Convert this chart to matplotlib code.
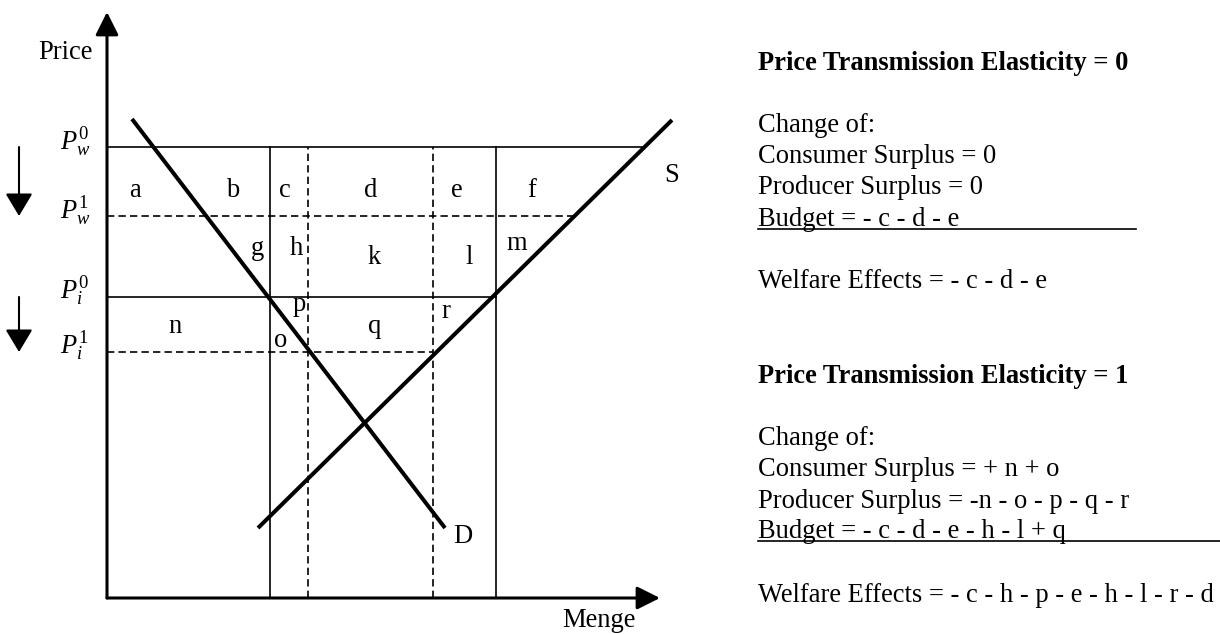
import matplotlib

matplotlib.use("Agg")
import matplotlib.pyplot as plt

# Schematic units: quantity Q to the right of the price axis, price P above the quantity axis.
SERIF = "Liberation Serif"
plt.rcParams["font.family"] = [SERIF, "DejaVu Serif"]
plt.rcParams["mathtext.fontset"] = "custom"
plt.rcParams["mathtext.rm"] = SERIF
plt.rcParams["mathtext.it"] = f"{SERIF}:italic"

# Price levels (world / domestic, before and after) and where each line stops at S
price_names = [r"$P_w^0$", r"$P_w^1$", r"$P_i^0$", r"$P_i^1$"]
price_levels = [45.1, 38.2, 30.1, 24.6]
price_line_end = [53.6, 46.8, 38.9, 32.6]
price_solid = [True, False, True, False]

# Quantities marking the vertical boundaries
quantity_marks = [16.3, 20.1, 32.6, 38.9]
quantity_solid = [True, False, False, True]

# Demand and supply curves (end points)
demand_q = [2.5, 33.8]
demand_p = [47.9, 7.0]
supply_q = [15.1, 56.5]
supply_p = [7.0, 47.8]

# Area labels and their positions
area_names = ["a", "b", "c", "d", "e", "f", "g", "h", "k", "l", "m",
              "p", "n", "o", "q", "r"]
area_q = [2.8, 12.6, 17.8, 26.4, 35.0, 42.5, 15.0, 18.9, 26.7, 36.2, 41.0,
          19.2, 6.8, 17.4, 26.8, 33.9]
area_p = [40.1, 40.1, 40.1, 40.1, 40.1, 40.1, 34.3, 34.3, 33.4, 33.4, 34.8,
          28.7, 26.5, 25.1, 26.5, 28.0]

# Right-hand text blocks
block_titles = ["Price Transmission Elasticity = 0",
                "Price Transmission Elasticity = 1"]
block_lines = [
    ["Change of:", "Consumer Surplus = 0", "Producer Surplus = 0",
     "Budget = - c - d - e", "Welfare Effects = - c - d - e"],
    ["Change of:", "Consumer Surplus = + n + o",
     "Producer Surplus = -n - o - p - q - r",
     "Budget = - c - d - e - h - l + q",
     "Welfare Effects = - c - h - p - e - h - l - r - d"],
]
block_title_y = [52.8, 21.5]
block_line_y = [[46.6, 43.5, 40.4, 37.2, 31.0], [15.3, 12.2, 9.0, 6.0, -0.4]]
block_rule_end = [102.9, 111.3]

FS = 19.1
THIN = 1.2
dash = (4.4, 2.5)

fig = plt.figure(figsize=(12.2, 6.34), dpi=100)
ax = fig.add_axes([0, 0, 1, 1])
ax.set_xlim(-10.7, 111.3)
ax.set_ylim(-3.6, 59.8)
ax.axis("off")

# Axes with arrow heads
axis_arrow = dict(arrowstyle="-|>,head_length=1.0,head_width=0.5",
                  lw=2.2, color="black", mutation_scale=14,
                  shrinkA=0, shrinkB=0)
ax.annotate("", xy=(0, 58.6), xytext=(0, 0), arrowprops=axis_arrow)
ax.annotate("", xy=(55.3, 0), xytext=(0, 0), arrowprops=axis_arrow)
ax.text(-4.2, 53.9, "Price", fontsize=FS, ha="center", va="baseline")
ax.text(49.2, -2.9, "Menge", fontsize=FS, ha="center", va="baseline")

# Horizontal price lines
for name, level, end, solid in zip(price_names, price_levels, price_line_end,
                                   price_solid):
    line, = ax.plot([0, end], [level, level], color="black", lw=THIN)
    if not solid:
        line.set_dashes(dash)
    ax.text(-4.7, level - 0.2, name, fontsize=FS, ha="left", va="baseline")

# Vertical quantity lines
for q, solid in zip(quantity_marks, quantity_solid):
    line, = ax.plot([q, q], [0, price_levels[0]], color="black", lw=THIN)
    if not solid:
        line.set_dashes(dash)

# Price drop arrows on the left
drop_arrow = dict(arrowstyle="-|>,head_length=1.0,head_width=0.6",
                  lw=1.5, color="black", mutation_scale=14,
                  shrinkA=0, shrinkB=0)
for start, stop in [(0, 1), (2, 3)]:
    ax.annotate("", xy=(-8.8, price_levels[stop]),
                xytext=(-8.8, price_levels[start]), arrowprops=drop_arrow)

# Demand and supply
ax.plot(demand_q, demand_p, color="black", lw=2.9, solid_capstyle="butt")
ax.plot(supply_q, supply_p, color="black", lw=2.9, solid_capstyle="butt")
ax.text(56.5, 41.6, "S", fontsize=FS, ha="center", va="baseline")
ax.text(35.6, 5.5, "D", fontsize=FS, ha="center", va="baseline")

for name, q, p in zip(area_names, area_q, area_p):
    ax.text(q, p, name, fontsize=FS, ha="center", va="baseline")

# Text blocks on the right
for title, ty, lines, ys, rule_end in zip(block_titles, block_title_y,
                                          block_lines, block_line_y,
                                          block_rule_end):
    ax.text(65.1, ty, title, fontsize=FS, fontweight="bold",
            ha="left", va="baseline")
    for text, y in zip(lines, ys):
        ax.text(65.1, y, text, fontsize=FS, ha="left", va="baseline")
    ax.plot([65.1, rule_end], [ys[3] - 0.25, ys[3] - 0.25],
            color="black", lw=1.2)

fig.savefig("out.png", dpi=100, facecolor="white")
